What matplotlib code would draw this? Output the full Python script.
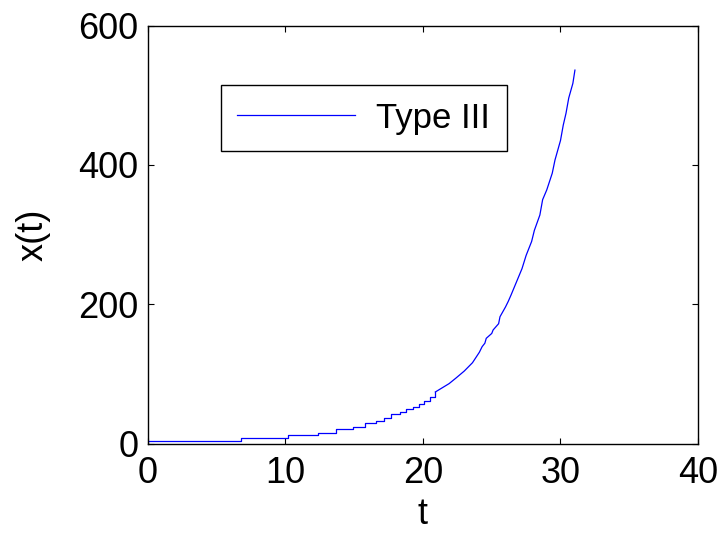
import matplotlib
matplotlib.use("Agg")
import matplotlib.pyplot as plt

plt.rcParams['font.family'] = ['Liberation Sans', 'DejaVu Sans']

# simulated trajectory x(t) of the Type III model
t_vals = [0.0, 6.8, 10.2, 12.4, 13.7, 14.9, 15.8, 16.6, 17.2, 17.7, 18.3,
          18.8, 19.3, 19.7, 20.1, 20.5, 20.9, 21.4, 21.9, 22.4, 23.0, 23.6,
          24.1, 24.3, 24.5, 24.6, 25.0, 25.1, 25.5, 25.6, 25.8, 26.0, 26.2,
          26.4, 26.8, 27.2, 27.5, 27.9, 28.1, 28.5, 28.7, 29.0, 29.4, 29.6,
          30.0, 30.2, 30.4, 30.6, 30.9, 31.05]
x_vals = [3, 7.5, 11.8, 15.5, 20.4, 24, 29, 32.7, 37, 42, 45,
          49, 53, 57, 61, 67, 74, 80, 86, 94, 104, 116,
          131, 139, 144, 151, 158, 163, 172, 182, 189, 196, 204,
          213, 232, 251, 270, 290, 306, 328, 350, 364, 388, 407,
          435, 457, 474, 496, 517, 536]

# early part is a clear staircase, later part is drawn as a line
n_steps = 17

fig = plt.figure(figsize=(7.19, 5.43), dpi=100)
ax = fig.add_axes([0.2058, 0.1832, 0.765, 0.7698])

ax.plot(t_vals[:n_steps], x_vals[:n_steps], color='#0000ff', lw=0.9,
        drawstyle='steps-post', label='Type III')
ax.plot(t_vals[n_steps - 1:], x_vals[n_steps - 1:], color='#0000ff', lw=0.9)

ax.set_xlim(0, 40)
ax.set_ylim(0, 600)
ax.set_xticks([0, 10, 20, 30, 40])
ax.set_yticks([0, 200, 400, 600])
ax.tick_params(direction='in', length=4.5, width=0.8, top=True, right=True,
               labelsize=26)
ax.tick_params(axis='x', pad=9)
ax.tick_params(axis='y', pad=7)
for s in ax.spines.values():
    s.set_linewidth(1.0)

ax.set_xlabel('t', fontsize=26, labelpad=4)
ax.set_ylabel('x(t)', fontsize=26, labelpad=20)

leg = ax.legend(loc='upper left', bbox_to_anchor=(0.132, 0.858),
                borderaxespad=0, fontsize=25, fancybox=False,
                edgecolor='black', framealpha=1, handlelength=3.4,
                handletextpad=0.6, borderpad=0.48)
leg.get_frame().set_linewidth(1.0)

fig.savefig('out.png', dpi=100)
